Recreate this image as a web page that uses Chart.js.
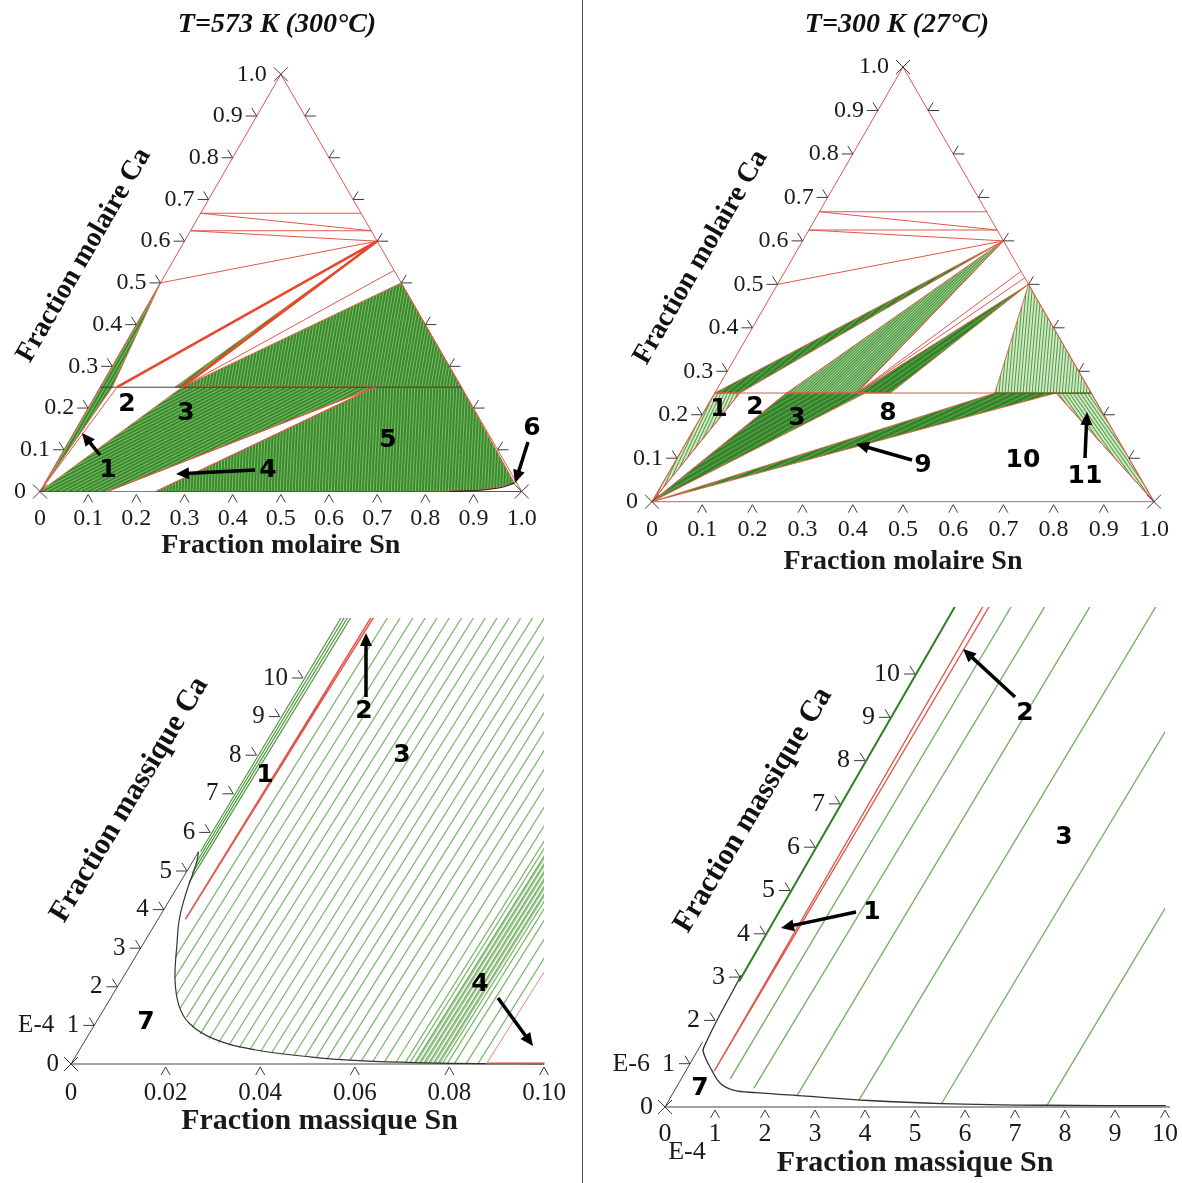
<!DOCTYPE html>
<html>
<head>
<meta charset="utf-8">
<title>Ca-Sn sections</title>
<script src="https://cdn.jsdelivr.net/npm/chart.js@4.4.1/dist/chart.umd.min.js"></script>
<style>
  body { margin: 0; background: #fff; }
  canvas { position: absolute; left: 0; top: 0; }
  #divider { position: absolute; left: 582px; top: 0; width: 1px; height: 1183px; background: #555; }
</style>
</head>
<body>
<div id="divider"></div>
<canvas id="tl" width="1182" height="1183"></canvas>
<canvas id="tr" width="1182" height="1183"></canvas>
<canvas id="bl" width="1182" height="1183"></canvas>
<canvas id="br" width="1182" height="1183"></canvas>
<script>
// ---------------- tick values / labels ----------------
var molTicks = [0, 0.1, 0.2, 0.3, 0.4, 0.5, 0.6, 0.7, 0.8, 0.9, 1.0];
var molLabels = ['0', '0.1', '0.2', '0.3', '0.4', '0.5', '0.6', '0.7', '0.8', '0.9', '1.0'];
var blSnTicks = [0, 0.02, 0.04, 0.06, 0.08, 0.10];
var blSnLabels = ['0', '0.02', '0.04', '0.06', '0.08', '0.10'];
var brSnTicks = [0, 1, 2, 3, 4, 5, 6, 7, 8, 9, 10];
var brSnLabels = ['0', '1', '2', '3', '4', '5', '6', '7', '8', '9', '10'];
var caTicks = [1, 2, 3, 4, 5, 6, 7, 8, 9, 10];
var caLabels = ['1', '2', '3', '4', '5', '6', '7', '8', '9', '10'];

// ---------------- T = 573 K, points are [x Sn, x Ca] ----------------
var tlRegion1 = [[0, 0], [0, 0.5], [0.025, 0.25]];
var tlRegion3 = [[0, 0], [0.17, 0.25], [0.57, 0.25], [0.14, 0]];
var tlRegion5a = [[0.17, 0.25], [0.5, 0.5], [0.75, 0.25]];
var tlRegion5b = [[0.24, 0], [0.57, 0.25], [0.75, 0.25], [0.975, 0.02], [0.94, 0.008], [0.89, 0.002], [0.8, 0]];
var tlBand = [[0.155, 0.25], [0.4, 0.6], [0.17, 0.25]];
var tlRed = [
  [[0, 0.667], [0.333, 0.667]], [[0, 0.667], [0.375, 0.625]], [[0, 0.625], [0.375, 0.625]],
  [[0, 0.625], [0.4, 0.6]], [[0, 0.5], [0.4, 0.6]], [[0.17, 0.25], [0.47, 0.53]],
  [[0, 0], [0.035, 0.25]], [[0.14, 0], [0.57, 0.25]], [[0.24, 0], [0.57, 0.25]], [[0.14, 0], [0.24, 0]]
];
var tlRedThick = [[[0.035, 0.25], [0.4, 0.6]], [[0.17, 0.25], [0.4, 0.6]]];
var tlLine25 = [[[0, 0.25], [0.75, 0.25]]];
var tlCurve = [[0.85, 0], [0.91, 0.003], [0.95, 0.009], [0.975, 0.02]];

// ---------------- T = 300 K ----------------
var trRegion1 = [[0, 0], [0, 0.25], [0.05, 0.25]];
var trBand = [[0, 0.25], [0.4, 0.6], [0.05, 0.25]];
var trRegion3 = [[0, 0], [0.143, 0.25], [0.3, 0.25]];
var trFan3 = [[0.143, 0.25], [0.4, 0.6], [0.283, 0.25]];
var trBand8 = [[0.283, 0.25], [0.5, 0.5], [0.35, 0.25]];
var trRegion9 = [[0, 0], [0.558, 0.25], [0.68, 0.25]];
var trRegion11a = [[0.558, 0.25], [0.5, 0.5], [0.75, 0.25]];
var trRegion11b = [[0.68, 0.25], [0.75, 0.25], [1, 0]];
var trRed = [
  [[0, 0.667], [0.333, 0.667]], [[0, 0.667], [0.375, 0.625]], [[0, 0.625], [0.375, 0.625]],
  [[0, 0.625], [0.4, 0.6]], [[0, 0.5], [0.4, 0.6]], [[0.283, 0.25], [0.4, 0.6]],
  [[0.283, 0.25], [0.47, 0.53]], [[0.283, 0.25], [0.485, 0.515]], [[0.68, 0.25], [1, 0]],
  [[0, 0.25], [0.558, 0.25]], [[0, 0], [0.05, 0.25]], [[0, 0], [0.143, 0.25]]
];
var trLine25 = [[[0.558, 0.25], [0.75, 0.25]]];

// ---------------- mass fractions near Mg corner, 573 K (Sn, Ca in E-4) ----------------
var blCurve = [[0, 5.5], [0.001, 5.2], [0.0026, 4.43], [0.0045, 3.75], [0.0069, 3.17], [0.0112, 2.2], [0.0155, 1.5],
  [0.0199, 1.05], [0.027, 0.65], [0.037, 0.37], [0.05, 0.18], [0.0614, 0.08], [0.075, 0.03], [0.0878, 0.01], [0.1, 0.005]];
var blTieSn = [0.0085, 0.011, 0.0135, 0.016, 0.0185, 0.021, 0.0235, 0.026, 0.0285, 0.031, 0.0335, 0.036, 0.0385, 0.041,
  0.0435, 0.046, 0.0485, 0.051, 0.0535, 0.056, 0.0585, 0.061, 0.0635, 0.066, 0.0685, 0.0705, 0.0715, 0.0725, 0.0735,
  0.0745, 0.0755, 0.0765, 0.0775, 0.0785, 0.0795, 0.081, 0.0835, 0.086];
var blTieCa = [2.75, 2.25, 1.8, 1.45, 1.2, 0.95, 0.78, 0.64, 0.55, 0.48, 0.42, 0.37, 0.33, 0.29, 0.25, 0.22, 0.19, 0.16,
  0.14, 0.12, 0.1, 0.08, 0.07, 0.05, 0.04, 0.035, 0.03, 0.03, 0.025, 0.025, 0.02, 0.02, 0.02, 0.015, 0.015, 0.01, 0.01, 0.005];
var blTieTop = [0.0104, 0.0131, 0.0158, 0.0184, 0.0209, 0.0235, 0.0261, 0.0286, 0.0311, 0.0336, 0.0361, 0.0386, 0.0411,
  0.0436, 0.0461, 0.0486, 0.0511, 0.0536, 0.0561, 0.0586, 0.0611, 0.0636, 0.0661, 0.0686, 0.0711, 0.0731, 0.0741, 0.0751,
  0.0761, 0.0771, 0.0781, 0.0791, 0.0801, 0.0811, 0.0821, 0.0836, 0.0861, 0.0886];
// darker streak of crowded tie lines
var blStreakSn = [0.0728, 0.0738, 0.0748, 0.0758, 0.0768, 0.0778];
var blStreakCa = [0.03, 0.025, 0.025, 0.02, 0.02, 0.02];
var blStreakTop = [0.0753, 0.0763, 0.0773, 0.0783, 0.0793, 0.0803];
var blBand = [[[0.0004, 5.5], [0.0004, 12.5]], [[0.0009, 5.2], [0.0011, 12.5]], [[0.0014, 4.95], [0.0018, 12.5]], [[0.0019, 4.7], [0.0025, 12.5]]];
var blRed = [[[0.0058, 3.75], [0.0068, 12.5]], [[0.0058, 3.75], [0.0074, 12.5]]];
var blRed4 = [[[0.0878, 0], [0.0905, 12]]];
var blOrange = [[[0.088, 0.02], [0.1, 0.02]]];

// ---------------- mass fractions near Mg corner, 300 K (Sn in E-4, Ca in E-6) ----------------
var brCurve = [[0, 3.05], [0.09, 1.36], [0.22, 1.16], [0.51, 0.85], [0.83, 0.55], [1.17, 0.39], [1.66, 0.33], [2.7, 0.25],
  [4.0, 0.15], [5.5, 0.08], [7.6, 0.04], [10.0, 0.03]];
var brTieSn = [0.98, 1.56, 2.51, 3.8, 5.49, 7.62];
var brTieCa = [0.65, 0.43, 0.25, 0.16, 0.07, 0.02];
var brTieTop = [1.16, 1.84, 2.74, 4.06, 5.75, 7.86];
var brRed = [[[0.57, 0.83], [0.58, 12]], [[0.57, 0.83], [0.71, 12]]];
var brAxisGreen = [[[0.03, 2.9], [0.02, 12]]];

// ---------------- annotations (page pixels) ----------------
var tlMarks = [['1', 108, 470], ['2', 127, 404], ['3', 186, 413], ['4', 268, 470], ['5', 388, 440], ['6', 532, 428]];
var tlArrows = [[100, 455, 82, 433], [255, 470, 176, 474], [528, 442, 515, 483]];
var trMarks = [['1', 719, 409], ['2', 755, 407], ['3', 797, 418], ['8', 888, 413], ['9', 923, 465], ['10', 1023, 460], ['11', 1085, 476]];
var trArrows = [[912, 460, 856, 444], [1085, 458, 1087, 412]];
var blMarks = [['7', 146, 1022], ['1', 265, 775], ['2', 364, 711], ['3', 402, 755], ['4', 480, 984]];
var blArrows = [[366, 697, 366, 633], [498, 998, 533, 1046]];
var brMarks = [['7', 700, 1088], ['1', 872, 912], ['2', 1025, 713], ['3', 1064, 837]];
var brArrows = [[856, 912, 781, 928], [1015, 697, 963, 649]];

var H = Math.sqrt(3) / 2;
function tern(sn, ca) { return { x: sn + ca / 2, y: ca * H }; }
function skewBL(sn, ca) { return { x: sn + ca * 0.004905, y: ca }; }
function skewBR(sn, ca) { return { x: sn + ca * 0.5, y: ca }; }

var RED = '#e0574c', ORANGE = '#e8472a';

function stripes(angle, dark, light, dw, lw) {
  var c = document.createElement('canvas');
  c.width = dw + lw; c.height = 8;
  var g = c.getContext('2d');
  g.fillStyle = light; g.fillRect(0, 0, c.width, 8);
  g.fillStyle = dark; g.fillRect(0, 0, dw, 8);
  var pat = g.createPattern(c, 'repeat');
  pat.setTransform(new DOMMatrix().rotateSelf(angle));
  return pat;
}

function lines(list, map, color, width, order, clip) {
  var pts = [];
  list.forEach(function (seg) {
    seg.forEach(function (p) { pts.push(map(p[0], p[1])); });
    pts.push({ x: NaN, y: NaN });
  });
  return { data: pts, showLine: true, borderColor: color, backgroundColor: color, borderWidth: width,
    pointRadius: 0, fill: false, spanGaps: false, order: order || 1, clip: clip === undefined ? false : clip };
}

function curve(pts, map, color, width) {
  return { data: pts.map(function (p) { return map(p[0], p[1]); }), showLine: true, borderColor: color,
    borderWidth: width, pointRadius: 0, fill: false, tension: 0.4, order: 1, clip: false };
}

function area(pts, map, fillStyle, order) {
  var d = pts.map(function (p) { return map(p[0], p[1]); });
  d.push(map(pts[0][0], pts[0][1]));
  return { data: d, showLine: true, fill: 'shape', backgroundColor: fillStyle, borderColor: 'rgba(226,96,64,0.9)',
    borderWidth: 1, pointRadius: 0, order: order || 5, clip: false };
}

function ties(sn, ca, top, topCa) {
  return sn.map(function (s, i) { return [[s, ca[i]], [top[i], topCa]]; });
}

// ---------------- drawing helpers for ticks ----------------
function seg(ctx, x1, y1, x2, y2) { ctx.beginPath(); ctx.moveTo(x1, y1); ctx.lineTo(x2, y2); ctx.stroke(); }
function cross(ctx, x, y) { seg(ctx, x - 7, y - 7, x + 7, y + 7); seg(ctx, x - 7, y + 7, x + 7, y - 7); }
function caret(ctx, x, y) { seg(ctx, x - 4.5, y + 11, x, y + 3); seg(ctx, x, y + 3, x + 4.5, y + 11); }
function leftTick(ctx, x, y) { seg(ctx, x - 11, y, x, y); seg(ctx, x, y, x - 5, y - 8); }
function rightTick(ctx, x, y) { seg(ctx, x, y, x + 11, y); seg(ctx, x, y, x + 5, y - 8); }

function arrow(ctx, x1, y1, x2, y2) {
  var a = Math.atan2(y2 - y1, x2 - x1);
  ctx.lineWidth = 3.5; ctx.strokeStyle = '#000'; ctx.fillStyle = '#000';
  seg(ctx, x1, y1, x2 - 9 * Math.cos(a), y2 - 9 * Math.sin(a));
  ctx.beginPath();
  ctx.moveTo(x2, y2);
  ctx.lineTo(x2 - 13 * Math.cos(a) + 6 * Math.sin(a), y2 - 13 * Math.sin(a) - 6 * Math.cos(a));
  ctx.lineTo(x2 - 13 * Math.cos(a) - 6 * Math.sin(a), y2 - 13 * Math.sin(a) + 6 * Math.cos(a));
  ctx.closePath(); ctx.fill();
}

function marks(ctx, list, arrows) {
  ctx.font = 'bold 25px "DejaVu Sans"';
  ctx.textAlign = 'center'; ctx.textBaseline = 'middle'; ctx.fillStyle = '#000';
  list.forEach(function (m) { ctx.fillText(m[0], m[1], m[2]); });
  arrows.forEach(function (a) { arrow(ctx, a[0], a[1], a[2], a[3]); });
}

function rotText(ctx, text, x, y, deg, font) {
  ctx.save(); ctx.translate(x, y); ctx.rotate(deg * Math.PI / 180);
  ctx.font = font; ctx.textAlign = 'center'; ctx.textBaseline = 'middle'; ctx.fillStyle = '#111';
  ctx.fillText(text, 0, 0); ctx.restore();
}

function ternDecor(chart, cfg) {
  var ctx = chart.ctx, sx = chart.scales.x, sy = chart.scales.y;
  function P(sn, ca) { var c = tern(sn, ca); return { x: sx.getPixelForValue(c.x), y: sy.getPixelForValue(c.y) }; }
  ctx.save();
  ctx.strokeStyle = '#3a3a3a'; ctx.lineWidth = 1;
  ctx.fillStyle = '#1a1a1a'; ctx.font = '24px "Liberation Serif"'; ctx.textBaseline = 'middle';
  var last = molTicks.length - 1;
  molTicks.forEach(function (t, i) {
    var b = P(t, 0), l = P(0, t), r = P(1 - t, t);
    if (i === 0 || i === last) cross(ctx, b.x, b.y); else caret(ctx, b.x, b.y);
    ctx.textAlign = 'center'; ctx.fillText(molLabels[i], b.x, b.y + cfg.labelDy);
    if (i > 0 && i < last) { leftTick(ctx, l.x, l.y); rightTick(ctx, r.x, r.y); }
    if (i === last) cross(ctx, l.x, l.y);
    ctx.textAlign = 'right'; ctx.fillText(molLabels[i], l.x - 14, l.y);
  });
  var mid = P(0.5, 0);
  ctx.font = 'bold 28px "Liberation Serif"'; ctx.textAlign = 'center';
  ctx.fillText('Fraction molaire Sn', mid.x, mid.y + cfg.titleDy);
  var e = P(0, 0.47);
  rotText(ctx, 'Fraction molaire Ca', e.x - 80 * 0.866, e.y - 80 * 0.5, -60, 'bold 28px "Liberation Serif"');
  ctx.font = 'italic bold 28px "Liberation Serif"'; ctx.textAlign = 'center'; ctx.fillStyle = '#111';
  ctx.fillText(cfg.title, cfg.titleX, 25);
  marks(ctx, cfg.marks, cfg.arrows);
  ctx.restore();
}

function skewDecor(chart, cfg) {
  var ctx = chart.ctx, sx = chart.scales.x, sy = chart.scales.y;
  function P(sn, ca) { var c = cfg.map(sn, ca); return { x: sx.getPixelForValue(c.x), y: sy.getPixelForValue(c.y) }; }
  ctx.save();
  ctx.strokeStyle = '#3a3a3a'; ctx.lineWidth = 1;
  ctx.fillStyle = '#1a1a1a'; ctx.font = cfg.tickFont; ctx.textBaseline = 'middle';
  cfg.snTicks.forEach(function (t, i) {
    var b = P(t, 0);
    if (i === 0) cross(ctx, b.x, b.y); else caret(ctx, b.x, b.y);
    ctx.textAlign = 'center'; ctx.fillText(cfg.snLabels[i], b.x, b.y + cfg.labelDy);
  });
  var o = P(0, 0);
  ctx.textAlign = 'right'; ctx.fillText('0', o.x - 12, o.y);
  caTicks.forEach(function (t, i) {
    var l = P(0, t);
    leftTick(ctx, l.x, l.y);
    ctx.textAlign = 'right'; ctx.fillText(caLabels[i], l.x - 15, l.y);
    if (i === 0) ctx.fillText(cfg.caExp, l.x - 40, l.y);
  });
  if (cfg.snExp) { ctx.textAlign = 'center'; ctx.fillText(cfg.snExp, o.x + 22, o.y + 45); }
  var mid = P(cfg.snTicks[cfg.snTicks.length - 1] / 2, 0);
  ctx.font = 'bold 30px "Liberation Serif"'; ctx.textAlign = 'center';
  ctx.fillText('Fraction massique Sn', mid.x + cfg.titleDx, mid.y + cfg.titleDy);
  var e = P(0, cfg.caTitleAt);
  rotText(ctx, 'Fraction massique Ca', e.x - cfg.caTitleOff * 0.857, e.y - cfg.caTitleOff * 0.515, -59, 'bold 30px "Liberation Serif"');
  marks(ctx, cfg.marks, cfg.arrows);
  ctx.restore();
}

function makeChart(id, pad, xr, yr, datasets, draw) {
  return new Chart(document.getElementById(id), {
    type: 'scatter',
    data: { datasets: datasets },
    options: {
      responsive: false, animation: false, events: [],
      layout: { padding: pad },
      scales: {
        x: { type: 'linear', display: false, min: xr[0], max: xr[1] },
        y: { type: 'linear', display: false, min: yr[0], max: yr[1] }
      },
      plugins: { legend: { display: false }, tooltip: { enabled: false } }
    },
    plugins: [{ id: 'decor_' + id, afterDraw: draw }]
  });
}

// patterns
var tlDense = function (a) { return stripes(a, '#388a2b', '#7fbb6c', 2, 1); };
var trLight = function (a) { return stripes(a, '#4e9a40', '#d2e9c8', 1, 2); };
var trMid = function (a) { return stripes(a, '#43923a', '#a3d094', 1, 1); };
var trDense = function (a) { return stripes(a, '#33832a', '#66a656', 3, 1); };

var edges = [[[0, 0], [0, 1]], [[0, 1], [1, 0]]];

// ---------------- top left : 573 K ----------------
makeChart('tl', { left: 40, right: 660.3, top: 74.3, bottom: 691.5 }, [0, 1], [0, H], [
  lines(tlRedThick, tern, ORANGE, 2.5, 1),
  lines(tlRed, tern, RED, 1, 1),
  lines(tlLine25, tern, '#3a3a3a', 1, 1),
  curve(tlCurve, tern, '#222', 1.2),
  lines(edges, tern, RED, 1, 2),
  lines([[[0, 0], [1, 0]]], tern, '#555', 1.2, 2),
  area(tlBand, tern, tlDense(50), 5),
  area(tlRegion1, tern, tlDense(30), 5),
  area(tlRegion3, tern, tlDense(63), 5),
  area(tlRegion5a, tern, tlDense(10), 5),
  area(tlRegion5b, tern, tlDense(3), 5)
], function (chart) {
  ternDecor(chart, { labelDy: 27, titleDy: 54, title: 'T=573 K (300°C)', titleX: 277, marks: tlMarks, arrows: tlArrows });
});

// ---------------- top right : 300 K ----------------
makeChart('tr', { left: 652, right: 28, top: 67, bottom: 681.3 }, [0, 1], [0, H], [
  lines(trRed, tern, RED, 1, 1),
  lines(trLine25, tern, '#2f6f25', 1.2, 1),
  lines(edges, tern, RED, 1, 2),
  lines([[[0, 0], [1, 0]]], tern, RED, 1, 2),
  area(trBand, tern, trDense(50), 5),
  area(trRegion1, tern, trLight(25), 5),
  area(trRegion3, tern, trDense(60), 5),
  area(trFan3, tern, trMid(45), 5),
  area(trBand8, tern, trDense(55), 5),
  area(trRegion9, tern, trDense(65), 5),
  area(trRegion11a, tern, trLight(5), 5),
  area(trRegion11b, tern, trLight(145), 5)
], function (chart) {
  ternDecor(chart, { labelDy: 28, titleDy: 60, title: 'T=300 K (27°C)', titleX: 897, marks: trMarks, arrows: trArrows });
});

// ---------------- bottom left ----------------
makeChart('bl', { left: 71, right: 638, top: 618, bottom: 119 }, [0, 0.1], [0, 446 / 38.6], [
  lines(blRed, skewBL, RED, 1.5, 1, true),
  lines(blRed4, skewBL, '#e98585', 1, 1, true),
  lines(blOrange, skewBL, ORANGE, 1.5, 1),
  curve(blCurve, skewBL, '#333', 1.2),
  lines([[[0, 0], [0.1, 0]], [[0, 0], [0, 5.5]]], skewBL, '#444', 1, 2),
  lines(blBand, skewBL, '#4f9a40', 1.2, 3, true),
  lines(ties(blStreakSn, blStreakCa, blStreakTop, 12.5), skewBL, 'rgba(90,160,70,0.55)', 1.8, 3, true),
  lines(ties(blTieSn, blTieCa, blTieTop, 12.5), skewBL, '#79b568', 1.2, 3, true)
], function (chart) {
  skewDecor(chart, { map: skewBL, snTicks: blSnTicks, snLabels: blSnLabels, labelDy: 29, caExp: 'E-4', snExp: null,
    tickFont: '25px "Liberation Serif"', titleDx: 12, titleDy: 57, caTitleAt: 5.7, caTitleOff: 86, marks: blMarks, arrows: blArrows });
});

// ---------------- bottom right ----------------
makeChart('br', { left: 665, right: 17, top: 607, bottom: 76 }, [0, 10], [0, 500 / 43.3], [
  lines(brRed, skewBR, RED, 1.3, 1, true),
  lines(brAxisGreen, skewBR, '#2f7d25', 2, 1, true),
  curve(brCurve, skewBR, '#333', 1.3),
  lines([[[0, 0], [10.1, 0]], [[0, 0], [0, 1.5]]], skewBR, '#444', 1, 2),
  lines(ties(brTieSn, brTieCa, brTieTop, 12.5), skewBR, '#6fb060', 1.3, 3, true)
], function (chart) {
  skewDecor(chart, { map: skewBR, snTicks: brSnTicks, snLabels: brSnLabels, labelDy: 27, caExp: 'E-6', snExp: 'E-4',
    tickFont: '26px "Liberation Serif"', titleDx: 0, titleDy: 56, caTitleAt: 6.0, caTitleOff: 72, marks: brMarks, arrows: brArrows });
});
</script>
</body>
</html>
